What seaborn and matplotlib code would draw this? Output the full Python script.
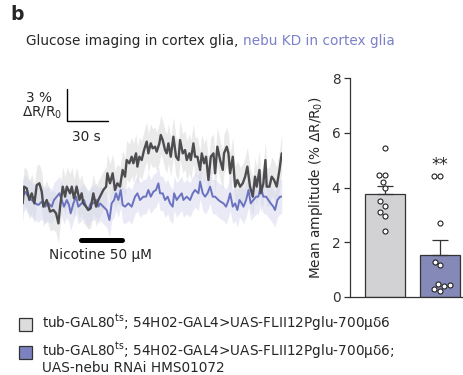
import numpy as np
import pandas as pd
import matplotlib
matplotlib.use("Agg")
import matplotlib.pyplot as plt
import seaborn as sns
from matplotlib.patches import Rectangle

sns.set_theme(style="white")
plt.rcParams['font.family'] = ['DejaVu Sans']

# ---------------- data ----------------
ctrl_t = [0.0, 1.0, 2.9, 4.8, 6.5, 8.4, 10.1, 12.0, 13.7, 14.9, 17.3, 19.7, 22.1, 24.0, 25.7, 26.9,
          28.8, 30.5, 31.7, 34.1, 35.3, 36.9, 38.8, 40.8, 42.4, 43.6, 45.6, 47.2, 48.9, 50.8, 52.8,
          54.4, 55.6, 58.0, 60.0, 60.9, 62.8, 64.7, 66.4, 68.1, 70.0, 71.9, 73.6, 74.8, 76.7, 78.4,
          79.6, 81.5, 82.5, 83.9, 85.6, 87.3, 89.2, 90.4, 92.1, 93.5, 95.2, 96.4, 98.3, 99.3, 100.7,
          102.4, 103.6, 104.8, 106.5, 108.4, 110.3, 112.0, 113.2, 115.1, 116.8, 118.0, 119.9, 120.9,
          122.8, 124.0, 125.7, 127.6, 128.8, 130.5, 131.9, 133.6, 135.3, 137.2, 138.4, 140.0, 142.0,
          143.9, 144.8, 146.8, 148.0, 149.2, 151.1, 152.8, 154.4, 156.4, 158.3, 160.0, 161.6, 163.5,
          165.5, 167.1, 168.3, 170.3, 171.2, 173.1, 174.6, 175.5, 177.5, 179.1, 180.8, 182.7, 184.7,
          186.3]
ctrl_v = [0.00, 1.55, 1.39, 0.31, 0.93, 0.00, 1.70, 1.86, 1.08, -0.31, 0.31, -0.77, -0.62, -0.93,
          -1.86, -0.31, 1.55, 0.62, 1.55, 0.93, 1.55, 0.46, 1.55, 0.31, 0.93, 0.00, -0.31, -0.62,
          -0.46, 0.93, -0.31, 0.31, 0.62, 1.24, 1.55, 2.79, 1.86, 2.79, 1.24, 1.86, 1.55, 3.10, 2.48,
          4.02, 3.72, 4.33, 3.72, 4.64, 3.41, 4.33, 4.02, 4.95, 5.73, 4.64, 5.57, 5.11, 5.26, 4.80,
          5.57, 6.35, 5.88, 4.95, 4.64, 5.57, 4.33, 6.19, 4.33, 4.02, 5.88, 4.64, 4.95, 4.02, 4.64,
          4.02, 5.57, 4.33, 4.33, 3.10, 4.64, 3.72, 4.33, 2.17, 4.33, 4.64, 2.79, 5.26, 4.02, 3.10,
          4.64, 5.26, 4.64, 2.79, 4.33, 1.55, 2.17, 1.55, 1.86, 2.48, 3.41, 1.55, 0.62, 2.48, 1.55,
          3.10, 0.93, 1.86, 4.02, 1.55, 1.55, 2.48, 2.17, 1.55, 3.10, 4.64]
kd_t = [0.0, 1.7, 4.1, 6.5, 8.9, 11.3, 13.7, 16.1, 18.5, 20.9, 22.5, 24.5, 26.4, 28.1, 29.7, 31.7,
        33.3, 34.5, 36.5, 38.4, 40.0, 42.4, 44.1, 45.6, 47.2, 48.9, 50.8, 52.8, 54.4, 55.6, 58.0,
        60.4, 62.4, 64.0, 65.7, 67.1, 68.8, 70.5, 71.9, 73.6, 76.0, 78.4, 80.8, 82.5, 84.4, 86.8,
        88.7, 90.4, 92.1, 94.0, 95.9, 97.6, 98.8, 100.7, 102.4, 104.3, 106.0, 107.9, 108.9, 110.8,
        112.5, 114.4, 115.6, 118.0, 120.4, 122.3, 124.0, 126.4, 127.6, 129.5, 131.2, 132.9, 134.8,
        136.7, 138.4, 140.8, 142.4, 144.4, 146.3, 148.0, 149.2, 151.1, 152.8, 154.4, 155.9, 157.6,
        158.8, 160.7, 162.4, 164.0, 165.9, 167.9, 169.5, 171.2, 173.1, 175.1, 176.7, 178.4, 180.3,
        181.5, 183.2, 185.1, 186.3]
kd_v = [0.62, 1.08, 0.62, 0.31, 0.00, -0.15, 0.15, -0.31, 0.00, -0.31, 0.31, 0.62, 0.93, 0.31,
        -0.31, 0.31, -0.15, -0.93, 0.00, 0.62, -0.31, 0.00, 0.31, -0.31, -0.62, 0.00, 0.00, 0.31,
        -0.31, 0.00, -0.31, -0.62, -1.55, 0.00, 0.31, 0.93, 0.31, 1.24, -0.15, -0.31, 0.00, -0.31,
        0.62, 0.93, 0.31, 0.62, 0.62, 1.24, 0.62, 1.08, 1.24, 1.86, 0.93, 0.93, 0.31, 0.62, 0.00,
        -0.31, 0.93, 0.31, 0.62, 0.93, 0.31, 0.62, 0.31, 0.93, 1.24, 0.93, 2.01, 0.93, 0.62, 0.93,
        1.55, 0.62, 0.62, 0.31, 0.15, 0.00, -0.31, 0.31, 0.93, -0.31, 0.00, -0.62, 0.31, 0.00,
        -0.31, 0.31, 1.24, 0.00, 0.31, 0.62, 0.62, 1.55, 0.62, 0.62, 0.31, 0.00, -0.31, -0.62,
        0.31, 0.62, 0.62]
ctrl_sem = 1.8
kd_sem = 1.6

groups = ["Control", "nebu KD"]
ctrl_points = [5.45, 4.44, 4.44, 4.21, 4.00, 3.49, 3.34, 3.11, 2.97, 2.42]
kd_points = [4.42, 4.42, 2.70, 1.28, 1.16, 0.46, 0.22, 0.40, 0.44, 0.28]
bar_means = [3.75, 1.52]
bar_sems = [0.30, 0.58]

title_black = "Glucose imaging in cortex glia, "
title_blue = "nebu KD in cortex glia"
legend_labels = [
    "tub-GAL80$^{\\mathrm{ts}}$; 54H02-GAL4>UAS-FLII12Pglu-700\u03bc\u03b46",
    "tub-GAL80$^{\\mathrm{ts}}$; 54H02-GAL4>UAS-FLII12Pglu-700\u03bc\u03b46;\nUAS-nebu RNAi HMS01072",
]

GRAY_LINE = "#4d4d4f"
BLUE_LINE = "#6b72bf"
GRAY_FILL = "#d2d2d4"
BLUE_FILL = "#7c82bf"
TITLE_BLUE = "#7b80c8"
FS = 9.8

W, H = 464, 375
fig = plt.figure(figsize=(W / 100, H / 100), dpi=100)

def ax_px(l, r, top, bottom):
    return fig.add_axes([l / W, 1 - bottom / H, (r - l) / W, (bottom - top) / H])

def fx(x):
    return x / W

def fy(y):
    return 1 - y / H

# ---------------- traces ----------------
ax = ax_px(22.7, 281.7, 70, 260)
ax.set_xlim(0, 186.3)
ax.set_ylim(-5.26, 12.38)
ax.axis("off")

ax.fill_between(ctrl_t, np.array(ctrl_v) - ctrl_sem, np.array(ctrl_v) + ctrl_sem,
                color="#dcdcde", alpha=0.6, lw=0)
ax.fill_between(kd_t, np.array(kd_v) - kd_sem, np.array(kd_v) + kd_sem,
                color="#d4d7ee", alpha=0.5, lw=0)
sns.lineplot(x=kd_t, y=kd_v, ax=ax, color=BLUE_LINE, lw=1.4)
sns.lineplot(x=ctrl_t, y=ctrl_v, ax=ax, color=GRAY_LINE, lw=1.7)

# scale bars
ax.plot([31.7, 31.7, 61.7], [10.6, 7.6, 7.6], color="black", lw=1.0, solid_joinstyle="miter",
        clip_on=False)
ax.text(21.0, 9.8, "3 %", ha="right", va="center", fontsize=FS)
ax.text(28.5, 8.45, "\u0394R/R$_\\mathrm{0}$", ha="right", va="center", fontsize=FS)
ax.text(45.6, 6.2, "30 s", ha="center", va="center", fontsize=FS)

# nicotine bar
ax.plot([42.0, 71.5], [-3.41, -3.41], color="black", lw=3.6, solid_capstyle="round")
ax.text(55.6, -4.75, "Nicotine 50 \u03bcM", ha="center", va="center", fontsize=FS)

# ---------------- bar chart ----------------
bx = ax_px(350, 462, 78, 297)
df_bar = pd.DataFrame({"group": groups, "mean": bar_means})
sns.barplot(data=df_bar, x="group", y="mean", hue="group", palette=[GRAY_FILL, BLUE_FILL],
            ax=bx, width=0.73, edgecolor="#333333", linewidth=0.9, legend=False, errorbar=None)
for i, (m, s) in enumerate(zip(bar_means, bar_sems)):
    bx.errorbar([i], [m], yerr=[[0], [s]], fmt="none", ecolor="#333333", elinewidth=0.9,
                capsize=6, capthick=0.9)
df_pts = pd.DataFrame({"group": [groups[0]] * len(ctrl_points) + [groups[1]] * len(kd_points),
                       "value": ctrl_points + kd_points})
sns.swarmplot(data=df_pts, x="group", y="value", ax=bx, color="white", edgecolor="#222222",
              linewidth=0.8, size=3.6)
bx.text(1, 4.5, "**", ha="center", va="bottom", fontsize=12)
bx.set_xlim(-0.636, 1.4)
bx.set_ylim(0, 8)
bx.set_yticks([0, 2, 4, 6, 8])
bx.set_xticks([])
bx.set_xlabel("")
bx.set_ylabel("Mean amplitude (% \u0394R/R$_\\mathrm{0}$)", fontsize=FS, labelpad=5)
for sp in ["top", "right"]:
    bx.spines[sp].set_visible(False)
for sp in ["left", "bottom"]:
    bx.spines[sp].set_color("#333333")
    bx.spines[sp].set_linewidth(0.9)
bx.tick_params(axis="y", length=4, width=0.9, color="#333333", labelsize=FS, pad=3,
               left=True, labelcolor="#333333")

# ---------------- titles ----------------
fig.text(fx(10), fy(14), "b", fontsize=13.5, fontweight="bold", va="center", ha="left")
t1 = fig.text(fx(26), fy(41), title_black, fontsize=FS, va="center", ha="left")
fig.canvas.draw()
bb = t1.get_window_extent()
fig.text(bb.x1 / W, fy(41), title_blue, fontsize=FS, va="center", ha="left", color=TITLE_BLUE)

# ---------------- legend ----------------
fig.patches.append(Rectangle((fx(18.5), fy(330.5)), 13.5 / W, 13 / H, transform=fig.transFigure,
                             facecolor="#dcdcdc", edgecolor="#333333", lw=0.9))
fig.patches.append(Rectangle((fx(18.5), fy(358.5)), 13.5 / W, 13 / H, transform=fig.transFigure,
                             facecolor=BLUE_FILL, edgecolor="#333333", lw=0.9))
fig.text(fx(42), fy(327.5), legend_labels[0], fontsize=FS, va="baseline", ha="left")
fig.text(fx(42), fy(371.5), legend_labels[1], fontsize=FS, va="baseline", ha="left",
         linespacing=0.95)

fig.savefig("out.png", dpi=100)
